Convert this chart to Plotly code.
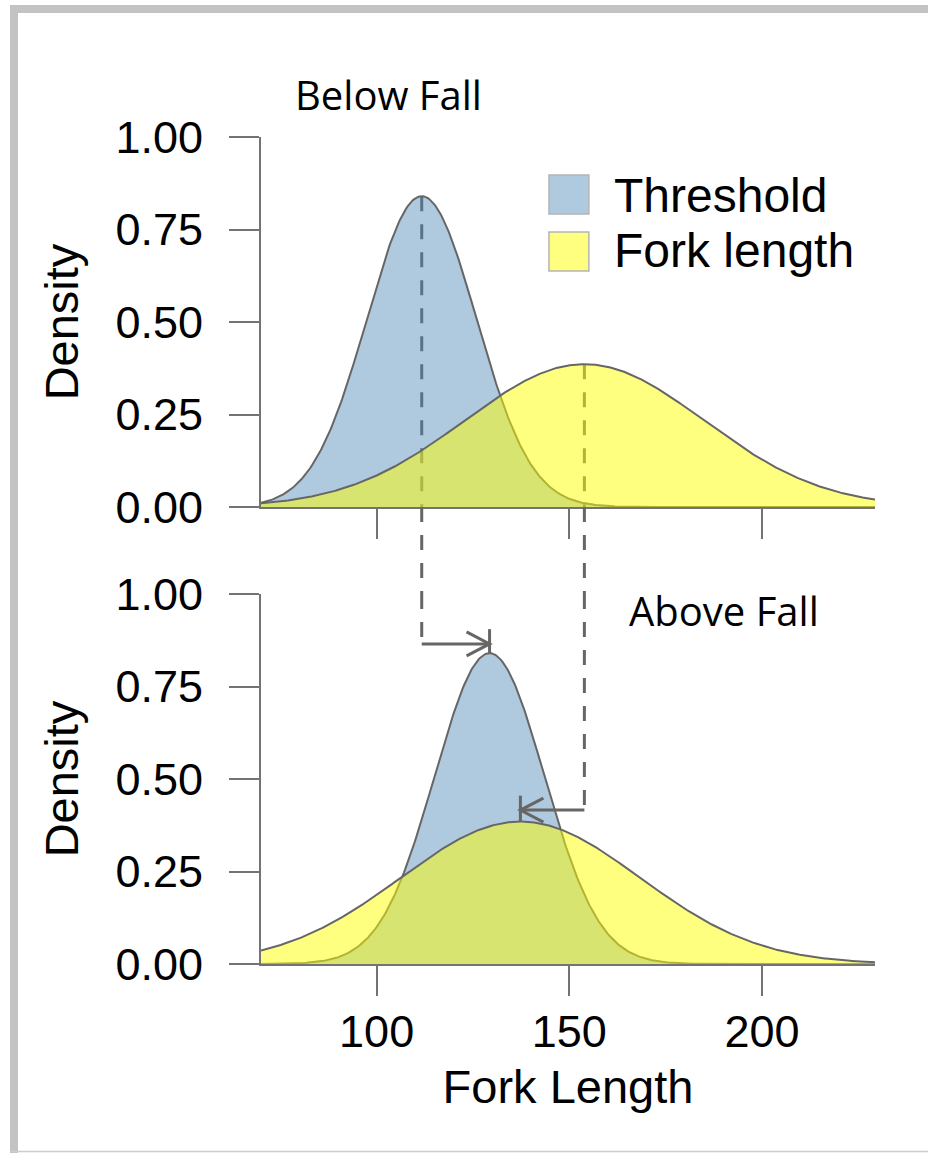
import numpy as np
import plotly.graph_objects as go

# Normal density curves (scaled densities) for each panel
panels = ["Below Fall", "Above Fall"]
series = ["Threshold", "Fork length"]
threshold_mean = [111.7, 129.3]
threshold_sd = [14.2, 14.2]
threshold_peak = [0.84, 0.84]
fork_mean = [153.9, 137.3]
fork_sd = [31.0, 31.0]
fork_peak = [0.386, 0.385]

x_range = [70.0, 229.3]
y_ticks = [0.0, 0.25, 0.5, 0.75, 1.0]
x_ticks = [100, 150, 200]

# arrow levels (density units, lower panel) for the mean shifts
arrow_level = [0.865, 0.416]
arrow_tip_top = [0.905, 0.455]

BLUE = "rgba(70,130,180,0.43)"
YELLOW = "rgba(255,255,0,0.5)"
OUTLINE = "#666666"
AXIS = "#737373"
FONT = "Liberation Sans, Arial, sans-serif"
LABEL_FONT = "Open Sans, sans-serif"

W, H = 928, 1153
ML, MR, MT, MB = 261, 53, 137, 189
top_domain = [(H - MB - 507) / (H - MT - MB), 1.0]
bot_domain = [0.0, (H - MB - 594) / (H - MT - MB)]

grid = np.linspace(x_range[0], x_range[1], 500)


def curve(mean, sd, peak):
    return peak * np.exp(-0.5 * ((grid - mean) / sd) ** 2)


fig = go.Figure()
axes = [("x", "y"), ("x2", "y2")]
for i, (xa, ya) in enumerate(axes):
    fig.add_trace(go.Scatter(
        x=grid, y=curve(threshold_mean[i], threshold_sd[i], threshold_peak[i]),
        mode="lines", fill="tozeroy", fillcolor=BLUE,
        line=dict(color=OUTLINE, width=2), name=series[0],
        xaxis=xa, yaxis=ya, showlegend=False, hoverinfo="skip"))
    fig.add_trace(go.Scatter(
        x=grid, y=curve(fork_mean[i], fork_sd[i], fork_peak[i]),
        mode="lines", fill="tozeroy", fillcolor=YELLOW,
        line=dict(color=OUTLINE, width=2), name=series[1],
        xaxis=xa, yaxis=ya, showlegend=False, hoverinfo="skip"))

dash_line = dict(color=OUTLINE, width=3, dash="15px,13px")
solid_line = dict(color=OUTLINE, width=3)
shapes = []

# dashed drop lines from the upper-panel means down to the lower panel
for mean, peak, level in [(threshold_mean[0], threshold_peak[0], arrow_level[0]),
                          (fork_mean[0], fork_peak[0], arrow_level[1])]:
    shapes.append(dict(type="line", xref="x", yref="y", x0=mean, x1=mean,
                       y0=peak, y1=0, line=dash_line, layer="below"))
    shapes.append(dict(type="line", xref="x", yref="paper", x0=mean, x1=mean,
                       y0=top_domain[0], y1=bot_domain[1], line=dash_line))
    shapes.append(dict(type="line", xref="x2", yref="y2", x0=mean, x1=mean,
                       y0=1.0, y1=level, line=dash_line))

# horizontal arrows to the lower-panel means
arrows = [(threshold_mean[0], threshold_mean[1], arrow_level[0], threshold_peak[1], arrow_tip_top[0], 1),
          (fork_mean[0], fork_mean[1], arrow_level[1], fork_peak[1], arrow_tip_top[1], -1)]
for start, end, level, peak, tip_top, direction in arrows:
    shapes.append(dict(type="line", xref="x2", yref="y2", x0=start, x1=end,
                       y0=level, y1=level, line=solid_line))
    shapes.append(dict(type="line", xref="x2", yref="y2", x0=end, x1=end,
                       y0=peak, y1=tip_top, line=solid_line))
    back = -23 * direction
    shapes.append(dict(type="path", xref="x2", yref="y2",
                       xsizemode="pixel", ysizemode="pixel",
                       xanchor=end, yanchor=level,
                       path=f"M {back},12 L 0,0 L {back},-12",
                       line=solid_line))

# legend boxes
for (y0, y1), color in [((0.792, 0.897), BLUE), ((0.638, 0.743), YELLOW)]:
    shapes.append(dict(type="rect", xref="x domain", yref="y domain",
                       x0=0.469, x1=0.534, y0=y0, y1=y1,
                       fillcolor=color, line=dict(color="#b5b5b5", width=1.5)))


# page frame
def px_x(px):
    return (px - ML) / (W - ML - MR)


def px_y(py):
    return (H - MB - py) / (H - MT - MB)


frame = "#c3c3c3"
shapes.append(dict(type="rect", xref="paper", yref="paper", x0=px_x(10), x1=px_x(18),
                   y0=px_y(5), y1=px_y(1153), fillcolor=frame, line=dict(width=0)))
shapes.append(dict(type="rect", xref="paper", yref="paper", x0=px_x(10), x1=px_x(928),
                   y0=px_y(5), y1=px_y(13), fillcolor=frame, line=dict(width=0)))
shapes.append(dict(type="line", xref="paper", yref="paper", x0=px_x(10), x1=px_x(928),
                   y0=px_y(1151.5), y1=px_y(1151.5), line=dict(color="#cccccc", width=1.5)))

annotations = [
    dict(text=series[0], xref="x domain", yref="y domain", x=0.572, y=0.843,
         xanchor="left", yanchor="middle", showarrow=False,
         font=dict(family=FONT, size=48, color="black")),
    dict(text=series[1], xref="x domain", yref="y domain", x=0.572, y=0.692,
         xanchor="left", yanchor="middle", showarrow=False,
         font=dict(family=FONT, size=48, color="black")),
    dict(text=panels[0], xref="paper", yref="paper", x=px_x(388), y=px_y(95),
         xanchor="center", yanchor="middle", showarrow=False,
         font=dict(family=LABEL_FONT, size=40, color="black")),
    dict(text=panels[1], xref="paper", yref="paper", x=px_x(724), y=px_y(610),
         xanchor="center", yanchor="middle", showarrow=False,
         font=dict(family=LABEL_FONT, size=40, color="black")),
]

tick_font = dict(family=FONT, size=45, color="black")
title_font = dict(family=FONT, size=47, color="black")
xcommon = dict(range=x_range, tickvals=x_ticks, showline=True, linecolor=AXIS, linewidth=2,
               ticks="outside", ticklen=30, tickwidth=2, tickcolor=AXIS,
               showgrid=False, zeroline=False, tickfont=tick_font)
ycommon = dict(range=[0, 1], tickvals=y_ticks, tickformat=".2f", showline=True,
               linecolor=AXIS, linewidth=2, ticks="outside", ticklen=30, tickwidth=2,
               tickcolor=AXIS, showgrid=False, zeroline=False, tickfont=tick_font,
               ticklabelstandoff=17, automargin=False,
               title=dict(text="Density", font=title_font, standoff=22))

fig.update_layout(
    width=W, height=H,
    margin=dict(l=ML, r=MR, t=MT, b=MB),
    paper_bgcolor="white", plot_bgcolor="white",
    showlegend=False,
    xaxis=dict(xcommon, domain=[0, 1], anchor="y", showticklabels=False),
    yaxis=dict(ycommon, domain=top_domain, anchor="x"),
    xaxis2=dict(xcommon, domain=[0, 1], anchor="y2", ticklabelstandoff=-3, automargin=False,
                title=dict(text="Fork Length", font=title_font, standoff=14)),
    yaxis2=dict(ycommon, domain=bot_domain, anchor="x2"),
    shapes=shapes,
    annotations=annotations,
)

fig.write_html("out.html",
               post_script="document.documentElement.style.overflow='hidden';"
                           "document.body.style.margin='0';")
